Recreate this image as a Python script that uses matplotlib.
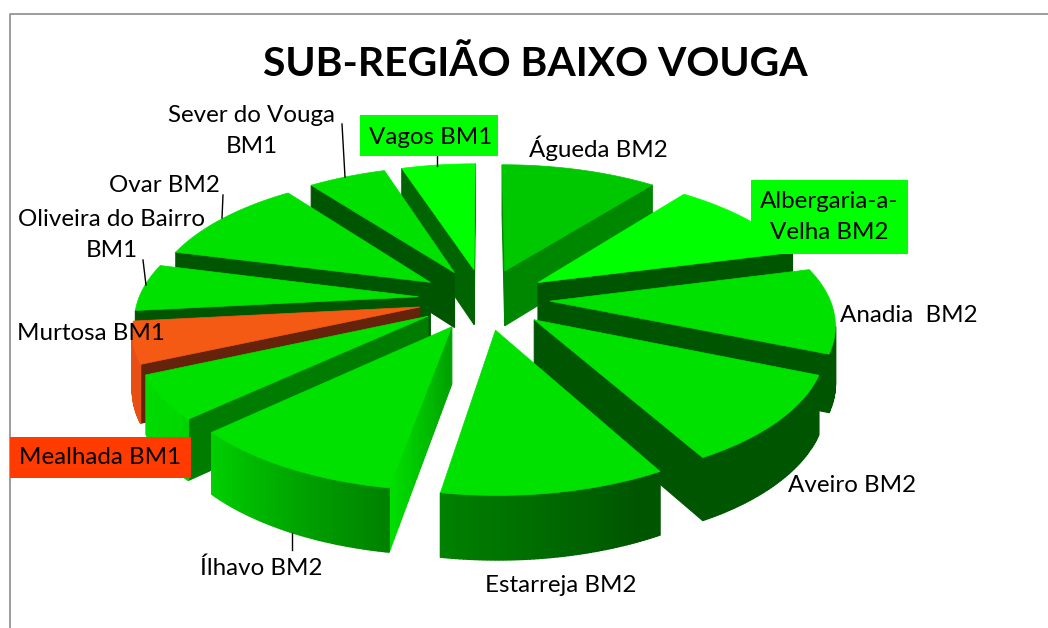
import numpy as np
import matplotlib
matplotlib.use('Agg')
import matplotlib.pyplot as plt
from matplotlib.patches import Polygon, Rectangle

plt.rcParams['font.family'] = ['Lato', 'DejaVu Sans']

title = 'SUB-REGIÃO BAIXO VOUGA'
names = ['Águeda BM2', 'Albergaria-a-\nVelha BM2', 'Anadia  BM2', 'Aveiro BM2', 'Estarreja BM2',
         'Ílhavo BM2', 'Mealhada BM1', 'Murtosa BM1', 'Oliveira do Bairro\nBM1', 'Ovar BM2',
         'Sever do Vouga\nBM1', 'Vagos BM1']
values = [38, 37.5, 37, 38.5, 38.6, 37.4, 19, 18, 20.5, 38.5, 19, 18]

# styles
top_g = [(0, 200, 0), (0, 255, 0), (0, 225, 0), (0, 225, 0), (0, 225, 0), (0, 225, 0),
         (0, 225, 0), (245, 90, 20), (0, 225, 0), (0, 225, 0), (0, 225, 0), (0, 255, 0)]
side_g = [(0, 135, 0), (0, 85, 0), (0, 85, 0), (0, 85, 0), (0, 85, 0), (0, 160, 0),
          (0, 125, 0), (100, 35, 10), (0, 85, 0), (0, 85, 0), (0, 85, 0), (0, 100, 0)]
side_outer = {5: (0, 225, 0)}
label_pos = [(598, 148), (829, 217), (909, 315), (852, 486), (561, 586),
             (261, 568), (100, 458), (91, 334), (112, 235), (164, 186), (252, 131), (431, 137)]
label_bg = {1: (751, 180, 157, 74), 6: (10, 437, 181, 41), 11: (360, 115, 138, 41)}
label_col = {1: '#00ff00', 6: '#ff3b00', 11: '#00ff00'}
leaders = [((342, 124), (345, 177)), ((437, 156), (437, 166)), ((223, 195), (222, 218)),
           ((143, 260), (146, 285)), ((292, 533), (292, 550))]

cx, cy = 484, 299
rx, ry = 280, 130
k = 0.15
explode = 0.235
h = 56


def rgb(c):
    return tuple(v / 255 for v in c)


def project(X, Y, z=0.0):
    s = 1 / (1 + k * Y)
    return cx + rx * X * s, cy - ry * Y * s + h * z * s ** 0.7


def wall_colour(deg, i):
    if i == 7:
        return rgb((230, 80, 20))
    g = np.interp(deg, [100, 155, 190, 230, 270], [85, 85, 130, 215, 225])
    return rgb((0, g, 0))


def area(p):
    x, y = np.array(p).T
    return 0.5 * np.sum(x * np.roll(y, -1) - np.roll(x, -1) * y)


fig = plt.figure(figsize=(10.48, 6.28), dpi=100)
ax = fig.add_axes([0, 0, 1, 1])
ax.set_xlim(0, 1048)
ax.set_ylim(628, 0)
ax.axis('off')

ax.plot([9.5, 9.5, 1048], [628, 13.5, 13.5], color='#8c8c8c', lw=1.2, zorder=1)

edges = np.cumsum([0] + values) * 360.0 / sum(values)
mids = (edges[:-1] + edges[1:]) / 2

# back slices first
order = np.argsort(-np.cos(np.radians(mids)))
z = 2
for i in order:
    a0, a1 = edges[i], edges[i + 1]
    mid = np.radians(mids[i])
    ox, oy = explode * np.sin(mid), explode * np.cos(mid)
    th = np.radians(np.linspace(a0, a1, 60))
    X = ox + np.sin(th)
    Y = oy + np.cos(th)

    # radial faces, in strips so one can fade towards the rim
    for (xe, ye), flip in (((X[0], Y[0]), 1), ((X[-1], Y[-1]), -1)):
        pts = [project(ox, oy), project(xe, ye), project(xe, ye, 1), project(ox, oy, 1)]
        if flip * area(pts) > 0:
            continue
        c0 = np.array(side_g[i], dtype=float)
        c1 = np.array(side_outer.get(i, side_g[i]), dtype=float)
        n = 30 if i in side_outer else 1
        for j in range(n):
            t0, t1 = j / n, (j + 1) / n
            x0, y0 = ox + (xe - ox) * t0, oy + (ye - oy) * t0
            x1, y1 = ox + (xe - ox) * t1, oy + (ye - oy) * t1
            strip = [project(x0, y0), project(x1, y1), project(x1, y1, 1), project(x0, y0, 1)]
            c = rgb(c0 + (c1 - c0) * t0)
            ax.add_patch(Polygon(strip, closed=True, fc=c, ec=c, lw=0.8, zorder=z))
            z += 1

    # outer wall, facet by facet
    for j in range(len(th) - 1):
        pts = [project(X[j], Y[j]), project(X[j + 1], Y[j + 1]),
               project(X[j + 1], Y[j + 1], 1), project(X[j], Y[j], 1)]
        if area(pts) > 0:
            continue
        c = wall_colour(np.degrees(th[j]), i)
        ax.add_patch(Polygon(pts, closed=True, fc=c, ec=c, lw=1.0, zorder=z))
        z += 1

    # top
    pts = [project(ox, oy)] + [project(x, y) for x, y in zip(X, Y)]
    c = rgb(top_g[i])
    ax.add_patch(Polygon(pts, closed=True, fc=c, ec=c, lw=0.5, zorder=z))
    z += 1

z = 5000
for (p0, p1) in leaders:
    ax.plot([p0[0], p1[0]], [p0[1], p1[1]], color='black', lw=1.0, zorder=z)
for i, (x, y, w, hh) in label_bg.items():
    ax.add_patch(Rectangle((x, y), w, hh, fc=label_col[i], ec='none', zorder=z + 1))
for name, (x, y) in zip(names, label_pos):
    ax.text(x, y, name, ha='center', va='center', fontsize=17.4, color='black',
            linespacing=1.6, zorder=z + 2)

ax.text(535, 64, title, ha='center', va='center', fontsize=29.4, fontweight='bold', color='black', zorder=z)

fig.savefig('out.png', dpi=100)
